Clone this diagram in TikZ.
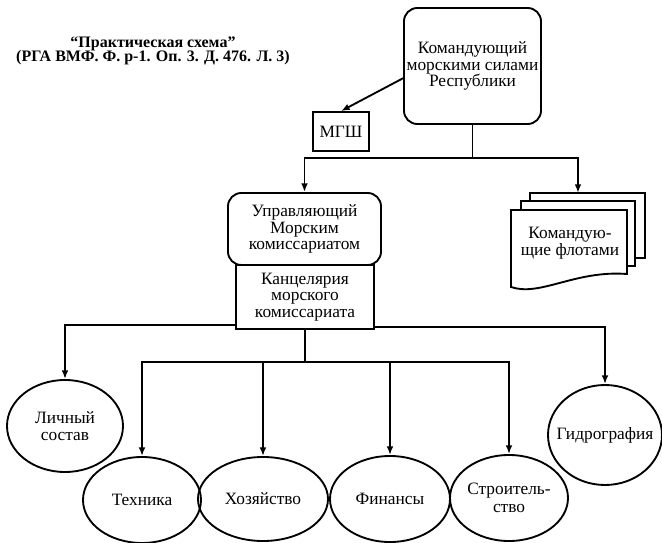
\documentclass[tikz,border=0pt]{standalone}
\usepackage{fontspec}
\setmainfont{Liberation Serif}
\usetikzlibrary{shapes.geometric,arrows.meta}

\begin{document}
\begin{tikzpicture}[x=0.75pt,y=-0.75pt,
    line width=1.4pt,
    >={Latex[length=6.5pt,width=5pt]},
    boxtext/.style={font=\fontsize{13}{12.6}\selectfont, align=center},
    roundbox/.style={draw, rounded corners=10pt, boxtext, inner sep=0pt},
    plainbox/.style={draw, boxtext, inner sep=0pt},
    oval/.style={draw, ellipse, inner sep=0pt},
    ovaltext/.style={font=\fontsize{13}{13}\selectfont, align=center, inner sep=0pt}]

    \useasboundingbox (0,0) rectangle (662,543);

    % Title
    \node[font=\fontsize{12}{11}\bfseries, align=center] (title) at (153,51)
        {``Практическая схема''\\(РГА ВМФ. Ф. р-1. Оп. 3. Д. 476. Л. 3)};

    % Top of the scheme
    \node[roundbox, minimum width=137*0.75pt, minimum height=116*0.75pt] (cmd) at (472.5,66)
        {Командующий\\морскими силами\\Республики};
    \node[plainbox, minimum width=56*0.75pt, minimum height=39*0.75pt] (mgsh) at (341,131.5) {МГШ};

    % Commissariat
    \node[roundbox, minimum width=153*0.75pt, minimum height=72*0.75pt] (upr) at (304.5,229)
        {Управляющий\\Морским\\комиссариатом};
    \node[plainbox, fill=white, minimum width=138*0.75pt, minimum height=64*0.75pt] (kanc) at (305,297)
        {Канцелярия\\морского\\комиссариата};

    % Fleets (stack of documents)
    \draw[fill=white] (530,193) -- (645,193) -- (645,258) -- (530,258) -- cycle;
    \draw[fill=white] (521,201) -- (635,201) -- (635,266) -- (521,266) -- cycle;
    \draw[fill=white] (511,210) -- (627,210) -- (627,274)
        .. controls (575,270) and (540,297) .. (511,287) -- cycle;
    \node[boxtext] (fleet) at (570,243) {Командую-\\щие флотами};
    \coordinate (fleettop) at (578,193);

    % Departments
    \node[oval, minimum width=116*0.75pt, minimum height=92*0.75pt,
        label={[ovaltext]center:Личный\\состав}] (lich) at (65,426) {};
    \node[oval, minimum width=118*0.75pt, minimum height=86*0.75pt,
        label={[ovaltext]center:Техника}] (tech) at (142,500) {};
    \node[oval, minimum width=130*0.75pt, minimum height=84*0.75pt,
        label={[ovaltext]center:Хозяйство}] (hoz) at (263,499) {};
    \node[oval, minimum width=120*0.75pt, minimum height=86*0.75pt,
        label={[ovaltext]center:Финансы}] (fin) at (390,499) {};
    \node[oval, minimum width=118*0.75pt, minimum height=86*0.75pt,
        label={[ovaltext]center:Строитель-\\ство}] (stroi) at (509,498) {};
    \node[oval, minimum width=114*0.75pt, minimum height=100*0.75pt,
        label={[ovaltext]center:Гидрография}] (gidro) at (605,435) {};

    % Connections
    \coordinate (bus1) at (472.5,158);
    \coordinate (bus2) at (305,362);
    \draw[->] (cmd.190) -- (mgsh.north);
    \draw (cmd.south) -- (bus1);
    \draw[->] (bus1) -| (upr.north);
    \draw[->] (bus1) -| (fleettop);
    \draw (kanc.south) -- (bus2);
    \draw[->] (bus2) -| (tech.north);
    \draw[->] (bus2) -| (hoz.north);
    \draw[->] (bus2) -| (fin.north);
    \draw[->] (bus2) -| (stroi.north);
    \draw[->] ([yshift=3.75pt]kanc.south west) -| (lich.north);
    \draw[->] ([yshift=2.25pt]kanc.south east) -| (gidro.north);

\end{tikzpicture}
\end{document}
